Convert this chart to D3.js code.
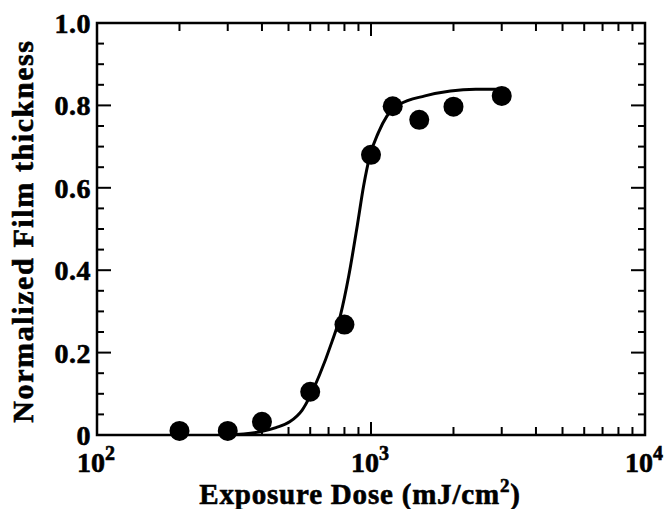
<!DOCTYPE html>
<meta charset="utf-8">
<style>
body { margin: 0; background: #fff; }
text { font-family: "Liberation Serif", "Times New Roman", serif; font-weight: bold; fill: #000; stroke: #000; stroke-width: 0.6; }
</style>
<svg width="669" height="509" id="chart"></svg>
<script src="https://d3js.org/d3.v7.min.js"></script>
<script>

// measured points
var doses = [200, 300, 400, 600, 800, 1000, 1200, 1500, 2000, 3000];
var thickness = [0.01, 0.01, 0.032, 0.105, 0.268, 0.68, 0.798, 0.765, 0.797, 0.823];

// fitted curve
var curveDose = [300, 394, 450, 505, 560, 648, 720, 773, 830, 891, 940, 990, 1064, 1143, 1270, 1574, 1950, 2411, 2985];
var curveThick = [0.0, 0.008, 0.018, 0.032, 0.06, 0.145, 0.226, 0.29, 0.387, 0.508, 0.605, 0.677, 0.734, 0.774, 0.802, 0.823, 0.835, 0.839, 0.839];

var yTicks = [0, 0.2, 0.4, 0.6, 0.8, 1.0];
var yTickLabels = ["0", "0.2", "0.4", "0.6", "0.8", "1.0"];
var xTicks = [100, 1000, 10000];
var xTickExp = ["2", "3", "4"];

var svg = d3.select("#chart");
var pl = 97, pr = 645, pt = 23, pb = 435;

var x = d3.scaleLog().domain([100, 10000]).range([pl, pr]);
var y = d3.scaleLinear().domain([0, 1]).range([pb, pt]);

// minor ticks
var minorX = [];
[100, 1000].forEach(function(b) {
  for (var k = 2; k <= 9; k++) minorX.push(b * k);
});
var minorY = d3.range(0, 21).map(function(i) { return i * 0.05; })
  .filter(function(v) { return Math.round(v * 100) % 20 != 0; });

var g = svg.append("g").attr("stroke", "#000").attr("fill", "none");

function vticks(data, y0, len) {
  g.append("g").selectAll("line").data(data).enter().append("line")
    .attr("x1", function(d) { return x(d); }).attr("x2", function(d) { return x(d); })
    .attr("y1", y0).attr("y2", y0 + len).attr("stroke-width", 2);
}
function hticks(data, x0, len) {
  g.append("g").selectAll("line").data(data).enter().append("line")
    .attr("x1", x0).attr("x2", x0 + len)
    .attr("y1", function(d) { return y(d); }).attr("y2", function(d) { return y(d); })
    .attr("stroke-width", 2);
}
vticks(minorX, pb, -8);
vticks(minorX, pt, 8);
vticks(xTicks, pb, -13);
vticks(xTicks, pt, 13);
hticks(minorY, pl, 7);
hticks(minorY, pr, -7);
hticks(yTicks, pl, 14);
hticks(yTicks, pr, -14);

// frame
g.append("rect").attr("x", pl).attr("y", pt)
  .attr("width", pr - pl).attr("height", pb - pt)
  .attr("stroke-width", 2.5);

// y labels
svg.selectAll(".yl").data(yTicks).enter().append("text")
  .attr("x", pl - 6).attr("y", function(d) { return y(d) + 10; })
  .attr("text-anchor", "end").attr("font-size", 28)
  .attr("letter-spacing", 0.5)
  .text(function(d, i) { return yTickLabels[i]; });

// x labels
var xl = svg.selectAll(".xl").data(xTicks).enter().append("text")
  .attr("x", function(d) { return x(d) - 1; }).attr("y", 472)
  .attr("text-anchor", "middle").attr("font-size", 28);
xl.append("tspan").text("10");
xl.append("tspan").attr("dy", -12).attr("font-size", 20).text(function(d, i) { return xTickExp[i]; });

// axis titles
var xt = svg.append("text").attr("x", 360).attr("y", 504)
  .attr("text-anchor", "middle").attr("font-size", 29).attr("letter-spacing", 0.8);
xt.append("tspan").text("Exposure Dose (mJ/cm");
xt.append("tspan").attr("dy", -12).attr("font-size", 19).text("2");
xt.append("tspan").attr("dy", 12).text(")");

svg.append("text")
  .attr("transform", "translate(33," + ((pt + pb) / 2 + 2) + ") rotate(-90)")
  .attr("text-anchor", "middle").attr("font-size", 30).attr("letter-spacing", 1.6)
  .text("Normalized Film thickness");

// curve
var curve = curveDose.map(function(d, i) { return [d, curveThick[i]]; });
svg.append("path").datum(curve)
  .attr("fill", "none").attr("stroke", "#000").attr("stroke-width", 3)
  .attr("d", d3.line().curve(d3.curveMonotoneX)
    .x(function(d) { return x(d[0]); }).y(function(d) { return y(d[1]); }));

// points
svg.selectAll(".pt").data(doses).enter().append("circle")
  .attr("cx", function(d) { return x(d); })
  .attr("cy", function(d, i) { return y(thickness[i]); })
  .attr("r", 10).attr("fill", "#000");

</script>
